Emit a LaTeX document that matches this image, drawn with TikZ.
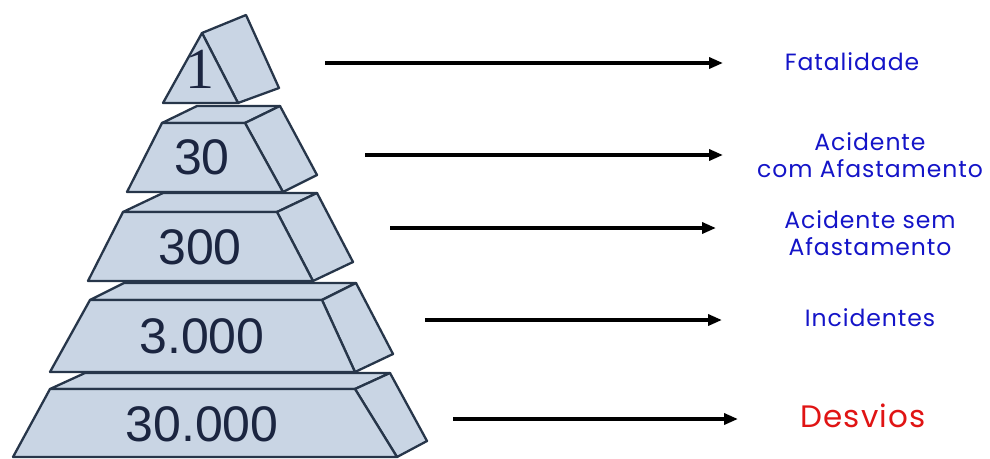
\documentclass[tikz,border=0pt]{standalone}
\usepackage{fontspec}
\setmainfont{Liberation Sans}
\newfontfamily\numfont{Liberation Sans}
\newfontfamily\onefont{Liberation Serif}
\newfontfamily\labelfont[LetterSpace=4]{Poppins}
\usetikzlibrary{arrows.meta}
\definecolor{pyrfill}{HTML}{C9D5E4}
\definecolor{pyrline}{HTML}{27364A}
\definecolor{numcol}{HTML}{1B2540}
\definecolor{lblblue}{HTML}{1414C8}
\definecolor{lblred}{HTML}{E01414}
\begin{document}
\begin{tikzpicture}[x=1pt,y=-1pt,
  face/.style={fill=pyrfill,draw=pyrline,line width=2.3pt,line join=round},
  num/.style={text=numcol,font=\numfont\fontsize{50}{50}\selectfont,inner sep=0pt},
  lbl/.style={text=lblblue,font=\labelfont\fontsize{23.5}{27}\selectfont,align=center,inner sep=0pt},
  conn/.style={line width=3.4pt,-{Triangle[length=14pt,width=11pt]}}]
\useasboundingbox (0,0) rectangle (990,458);

% layer 5 (base)
\draw[face] (50,389) -- (355,389) -- (390,373) -- (85,373) -- cycle;
\draw[face] (355,389) -- (390,373) -- (427,441) -- (397,457) -- cycle;
\draw[face] (50,389) -- (355,389) -- (397,457) -- (13,457) -- cycle;
% layer 4
\draw[face] (90,300) -- (322,300) -- (356,283) -- (124,283) -- cycle;
\draw[face] (322,300) -- (356,283) -- (393,354) -- (355,372) -- cycle;
\draw[face] (90,300) -- (322,300) -- (355,372) -- (50,372) -- cycle;
% layer 3
\draw[face] (123,212) -- (277,212) -- (317,193) -- (163,193) -- cycle;
\draw[face] (277,212) -- (317,193) -- (353,262) -- (313,281) -- cycle;
\draw[face] (123,212) -- (277,212) -- (313,281) -- (88,281) -- cycle;
% layer 2
\draw[face] (162,123) -- (245,123) -- (280,106) -- (197,106) -- cycle;
\draw[face] (245,123) -- (280,106) -- (317,175) -- (283,192) -- cycle;
\draw[face] (162,123) -- (245,123) -- (283,192) -- (127,192) -- cycle;
% layer 1 (apex)
\draw[face] (202,33) -- (246,15) -- (279,88) -- (238,103) -- cycle;
\draw[face] (202,33) -- (238,103) -- (163,103) -- cycle;

% counts
\node[num,font=\onefont\fontsize{58}{58}\selectfont] (n1) at (200,69) {1};
\node[num] (n30) at (202,157) {30};
\node[num] (n300) at (200,247) {300};
\node[num] (n3k) at (202,336) {3.000};
\node[num] (n30k) at (202,424) {30.000};

% categories
\node[lbl] (fat) at (852,62) {Fatalidade};
\node[lbl] (acom) at (870,155) {Acidente\\com Afastamento};
\node[lbl] (asem) at (870,233) {Acidente sem\\Afastamento};
\node[lbl] (inc) at (870,318) {Incidentes};
\node[lbl,text=lblred,font=\labelfont\fontsize{31}{31}\selectfont] (desv) at (863,416) {Desvios};

% connectors
\coordinate (s1) at (325,63);  \coordinate (e1) at (723,63);
\coordinate (s2) at (365,155); \coordinate (e2) at (723,155);
\coordinate (s3) at (390,228); \coordinate (e3) at (716,228);
\coordinate (s4) at (425,320); \coordinate (e4) at (722,320);
\coordinate (s5) at (453,419); \coordinate (e5) at (738,419);
\draw[conn] (s1) -- (e1);
\draw[conn] (s2) -- (e2);
\draw[conn] (s3) -- (e3);
\draw[conn] (s4) -- (e4);
\draw[conn] (s5) -- (e5);
\end{tikzpicture}
\end{document}
